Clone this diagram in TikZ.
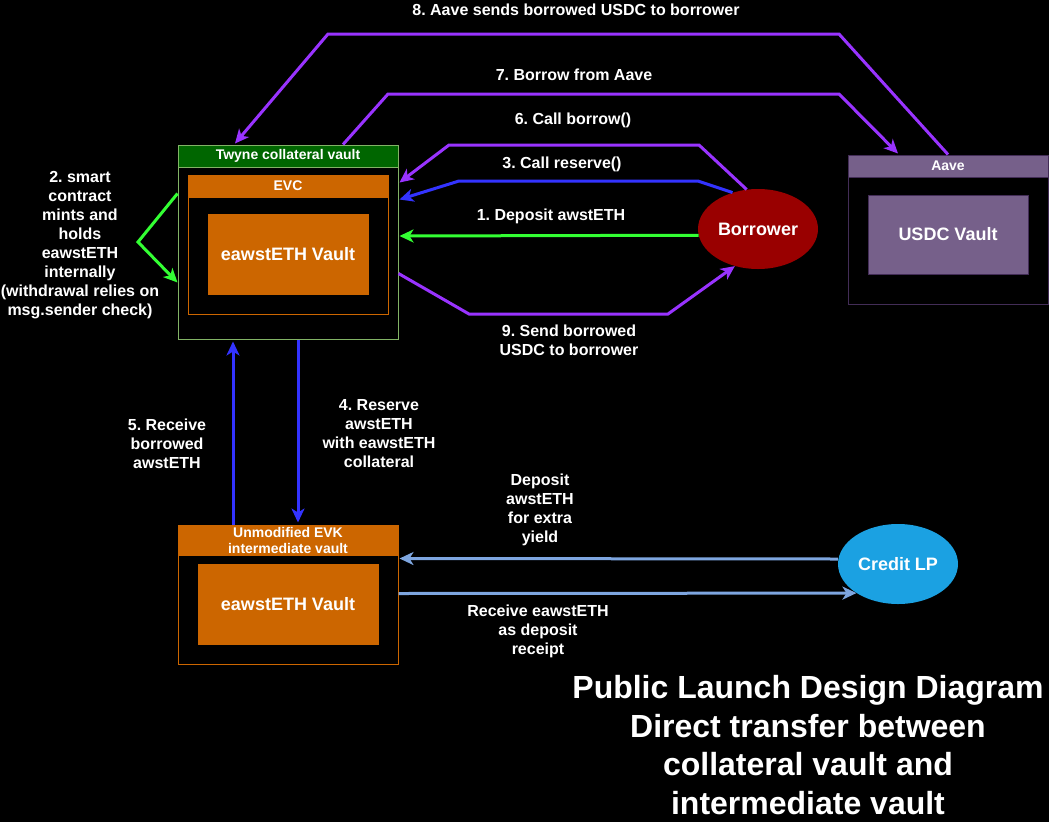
\documentclass[tikz,border=0pt]{standalone}
\usepackage{fontspec}
\setmainfont{Liberation Sans}
\usetikzlibrary{arrows.meta,calc,shapes.geometric}
\frenchspacing

\definecolor{r0g102b0}{RGB}{0,102,0}
\definecolor{r130g179b102}{RGB}{130,179,102}
\definecolor{r204g102b0}{RGB}{204,102,0}
\definecolor{r118g96b138}{RGB}{118,96,138}
\definecolor{r67g45b87}{RGB}{67,45,87}
\definecolor{r153g0b0}{RGB}{153,0,0}
\definecolor{r27g161b226}{RGB}{27,161,226}
\definecolor{r51g255b51}{RGB}{51,255,51}
\definecolor{r51g51b255}{RGB}{51,51,255}
\definecolor{r153g51b255}{RGB}{153,51,255}
\definecolor{r126g166b224}{RGB}{126,166,224}

\tikzset{
  lbl/.style={text=white, font=\bfseries\fontsize{16}{19}\selectfont, align=center, inner sep=0pt},
  boxframe/.style={draw, fill=black, line width=1pt, inner sep=0pt},
  boxhead/.style={draw, line width=1pt, inner sep=0pt, anchor=north, text=white,
    font=\bfseries\fontsize{14}{16}\selectfont, align=center},
  vaultfill/.style={draw, line width=1pt, inner sep=0pt, text=white,
    font=\bfseries\fontsize{18}{22}\selectfont},
  actor/.style={ellipse, inner sep=0pt, minimum width=120, minimum height=80, text=white,
    font=\bfseries\fontsize{18}{22}\selectfont},
  flow/.style={line width=3pt, -{Stealth[length=14pt,width=13pt,inset=4pt]}},
}

\begin{document}
\begin{tikzpicture}[x=1pt,y=-1pt]
% \clip (0,0) rectangle (1049,822);
\fill[black] (0,0) rectangle (1049,822);
\useasboundingbox (0,0) rectangle (1049,822);

% Drawing Twyne collateral vault
\node[boxframe, draw=r130g179b102, minimum width=220, minimum height=194] (twyne) at (288,242) {};
\node[boxhead, fill=r0g102b0, draw=r130g179b102, minimum width=220, minimum height=22] (twynehead) at (twyne.north) {Twyne collateral vault};
\node[boxframe, draw=r204g102b0, minimum width=200, minimum height=139] (evc) at (288,244.5) {};
\node[boxhead, fill=r204g102b0, draw=r204g102b0, minimum width=200, minimum height=22] (evchead) at (evc.north) {EVC};
\node[vaultfill, fill=r204g102b0, draw=r204g102b0, minimum width=160, minimum height=80] (twynevault) at (288,254) {eawstETH Vault};

% Drawing Aave
\node[boxframe, draw=r67g45b87, minimum width=200, minimum height=149] (aave) at (948,229.5) {};
\node[boxhead, fill=r118g96b138, draw=r67g45b87, minimum width=200, minimum height=22] (aavehead) at (aave.north) {Aave};
\node[vaultfill, fill=r118g96b138, draw=r67g45b87, minimum width=160, minimum height=79] (usdcvault) at (948,234.5) {USDC Vault};

% Drawing intermediate vault
\node[boxframe, draw=r204g102b0, minimum width=220, minimum height=139] (evk) at (288,594.5) {};
\node[boxhead, fill=r204g102b0, draw=r204g102b0, minimum width=220, minimum height=30] (evkhead) at (evk.north) {Unmodified EVK\\intermediate vault};
\node[vaultfill, fill=r204g102b0, draw=r204g102b0, minimum width=180, minimum height=80] (evkvault) at (288,604) {eawstETH Vault};

% Drawing actors
\node[actor, fill=r153g0b0] (borrower) at (758,229) {Borrower};
\node[actor, fill=r27g161b226] (credit) at (898,564) {Credit LP};

% Drawing flows
\draw[flow, r51g255b51] (borrower.186) -- ($(twyne.east)+(1,-6)$);
\draw[flow, r51g255b51] ($(twyne.north west)+(0,49)$) -- (138,242) -- ($(twyne.north west)+(0,138)$);
\draw[flow, r51g51b255] (borrower.125) -- (698,181) -- (459,181) -- ($(twyne.north east)+(1,55)$);
\draw[flow, r51g51b255] ($(twyne.south)+(10,0)$) -- ($(evk.north)+(10,-2)$);
\draw[flow, r51g51b255] ($(evk.north)+(-55,0)$) -- ($(twyne.south)+(-55,2)$);
\draw[flow, r153g51b255] (borrower.106) -- (699,145) -- (449,145) -- ($(twyne.north east)+(1,38)$);
\draw[flow, r153g51b255] ($(twyne.north)+(55,0)$) -- (388,94) -- (839,94) -- ($(aave.north)+(-50,-1)$);
\draw[flow, r153g51b255] (aave.north) -- (839,34) -- (328,34) -- ($(twyne.north)+(-53,-1)$);
\draw[flow, r153g51b255] ($(twyne.north east)+(0,129)$) -- (469,314) -- (668,314) -- (borrower.238);
\draw[flow, r126g166b224] ($(credit.west)+(0,-5)$) -- ($(evk.north east)+(1,34)$);
\draw[flow, r126g166b224] ($(evk.north east)+(0,69)$) -- (credit.215);

% Drawing labels
\node[lbl] (lab8) at (576,10) {8. Aave sends borrowed USDC to borrower};
\node[lbl] (lab7) at (574,75) {7. Borrow from Aave};
\node[lbl] (lab6) at (573,120) {6. Call borrow()};
\node[lbl] (lab3) at (562,164) {3. Call reserve()};
\node[lbl] (lab1) at (551,216) {1. Deposit awstETH};
\node[lbl] (lab9) at (569,340) {9. Send borrowed\\USDC to borrower};
\node[lbl] (lab2) at (80,245.5) {2. smart\\contract\\mints and\\holds\\eawstETH\\internally\\(withdrawal relies on\\msg.sender check)};
\node[lbl] (lab4) at (379,434) {4. Reserve\\awstETH\\with eawstETH\\collateral};
\node[lbl] (lab5) at (167,444) {5. Receive\\borrowed\\awstETH};
\node[lbl] (labdep) at (540,509.5) {Deposit\\awstETH\\for extra\\yield};
\node[lbl] (labrec) at (538,631) {Receive eawstETH\\as deposit\\receipt};

% Drawing title
\node[lbl, font=\bfseries\fontsize{32}{38.5}\selectfont] (title) at (808,745) {Public Launch Design Diagram\\Direct transfer between\\collateral vault and\\intermediate vault};
\end{tikzpicture}
\end{document}
